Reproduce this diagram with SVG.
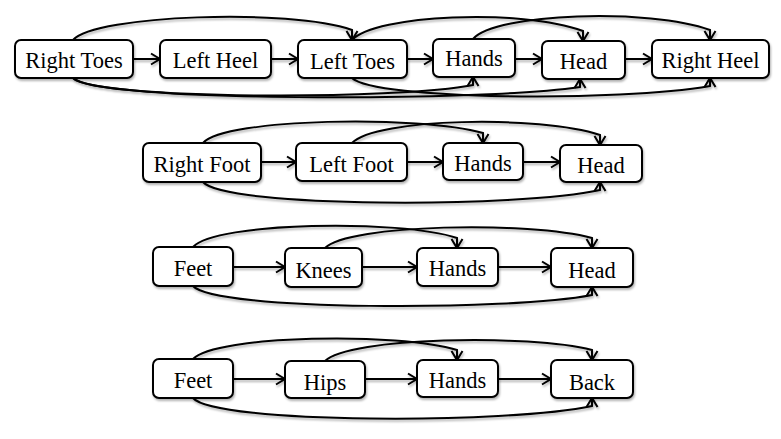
<svg xmlns="http://www.w3.org/2000/svg" width="781" height="439" viewBox="0 0 781 439">
<defs>
<filter id="sh" x="-10%" y="-30%" width="120%" height="160%">
<feDropShadow dx="1" dy="2" stdDeviation="1.2" flood-color="#000" flood-opacity="0.3"/>
</filter>
<marker id="ah" viewBox="-11 -7 13 14" markerWidth="13" markerHeight="14" refX="0" refY="0" orient="auto" markerUnits="userSpaceOnUse">
<path d="M-9,-5.5 L0,0 L-9,5.5" fill="none" stroke="#000" stroke-width="2" stroke-linejoin="miter"/>
</marker>
<style>
.n rect{fill:#fff;stroke:#000;stroke-width:2;filter:url(#sh)}
.n text{font-family:"Liberation Serif","Times New Roman",serif;font-size:22.5px;text-anchor:middle;fill:#000}
.e path,.e line{fill:none;stroke:#000;stroke-width:2;marker-end:url(#ah)}
</style>
</defs>
<rect width="781" height="439" fill="#fff"/>
<g class="e" id="connectors" filter="url(#sh)">
<!-- row 1 -->
<line x1="133" y1="59" x2="160" y2="59"/>
<line x1="271" y1="59" x2="298" y2="59"/>
<line x1="407" y1="59" x2="433" y2="59"/>
<line x1="515" y1="59" x2="542" y2="59"/>
<line x1="625" y1="59" x2="652" y2="59"/>
<path d="M73,40 C95,15 290,8 352,30 L352,40"/>
<path d="M352,40 C375,15 520,8 583,31 L583,41"/>
<path d="M473,39 C495,13 650,8 710,30 L710,40"/>
<path d="M73,78 C95,100 400,100 473,85 L473,77"/>
<path d="M73,78 C95,102 480,102 580,87 L580,79"/>
<path d="M352,78 C375,100 620,102 710,86 L710,78"/>
<!-- row 2 -->
<line x1="261" y1="162" x2="296" y2="162"/>
<line x1="407" y1="162" x2="443" y2="162"/>
<line x1="523" y1="162" x2="560" y2="162"/>
<path d="M203,143 C225,118 420,115 483,133 L483,143"/>
<path d="M352,143 C375,118 540,115 600,135 L600,145"/>
<path d="M203,182 C225,208 520,208 600,190 L600,182"/>
<!-- row 3 -->
<line x1="233" y1="267" x2="285" y2="267"/>
<line x1="362" y1="267" x2="417" y2="267"/>
<line x1="498" y1="267" x2="551" y2="267"/>
<path d="M193,247 C215,222 400,219 457,238 L457,248"/>
<path d="M325,248 C348,224 530,221 592,238 L592,248"/>
<path d="M193,286 C215,311 510,311 592,295 L592,287"/>
<!-- row 4 -->
<line x1="233" y1="379" x2="285" y2="379"/>
<line x1="365" y1="379" x2="417" y2="379"/>
<line x1="498" y1="379" x2="551" y2="379"/>
<path d="M193,359 C215,335 400,332 457,350 L457,360"/>
<path d="M325,361 C348,337 530,334 592,350 L592,360"/>
<path d="M193,398 C215,424 510,424 592,406 L592,398"/>
</g>
<!-- row 1 nodes -->
<g class="n" id="r1-right-toes"><rect x="15" y="40" width="118" height="38" rx="6"/><text x="74" y="68">Right Toes</text></g>
<g class="n" id="r1-left-heel"><rect x="160" y="40" width="111" height="38" rx="6"/><text x="215.5" y="68">Left Heel</text></g>
<g class="n" id="r1-left-toes"><rect x="298" y="40" width="109" height="38" rx="6"/><text x="352.5" y="69">Left Toes</text></g>
<g class="n" id="r1-hands"><rect x="433" y="39" width="82" height="38" rx="6"/><text x="474" y="66">Hands</text></g>
<g class="n" id="r1-head"><rect x="542" y="41" width="83" height="38" rx="6"/><text x="583.5" y="69">Head</text></g>
<g class="n" id="r1-right-heel"><rect x="652" y="40" width="117" height="38" rx="6"/><text x="710.5" y="68">Right Heel</text></g>
<!-- row 2 nodes -->
<g class="n" id="r2-right-foot"><rect x="143" y="143" width="118" height="39" rx="6"/><text x="202" y="172">Right Foot</text></g>
<g class="n" id="r2-left-foot"><rect x="296" y="143" width="111" height="38" rx="6"/><text x="351.5" y="172">Left Foot</text></g>
<g class="n" id="r2-hands"><rect x="443" y="143" width="80" height="37" rx="6"/><text x="483" y="171">Hands</text></g>
<g class="n" id="r2-head"><rect x="560" y="145" width="82" height="37" rx="6"/><text x="601" y="173">Head</text></g>
<!-- row 3 nodes -->
<g class="n" id="r3-feet"><rect x="153" y="247" width="80" height="39" rx="6"/><text x="193" y="276">Feet</text></g>
<g class="n" id="r3-knees"><rect x="285" y="248" width="77" height="39" rx="6"/><text x="323.5" y="278">Knees</text></g>
<g class="n" id="r3-hands"><rect x="417" y="248" width="81" height="38" rx="6"/><text x="457.5" y="276">Hands</text></g>
<g class="n" id="r3-head"><rect x="551" y="248" width="82" height="39" rx="6"/><text x="592" y="278">Head</text></g>
<!-- row 4 nodes -->
<g class="n" id="r4-feet"><rect x="153" y="359" width="80" height="39" rx="6"/><text x="193" y="388">Feet</text></g>
<g class="n" id="r4-hips"><rect x="285" y="361" width="80" height="37" rx="6"/><text x="325" y="390">Hips</text></g>
<g class="n" id="r4-hands"><rect x="417" y="360" width="81" height="37" rx="6"/><text x="457.5" y="388">Hands</text></g>
<g class="n" id="r4-back"><rect x="551" y="360" width="82" height="38" rx="6"/><text x="592" y="390">Back</text></g>
</svg>
